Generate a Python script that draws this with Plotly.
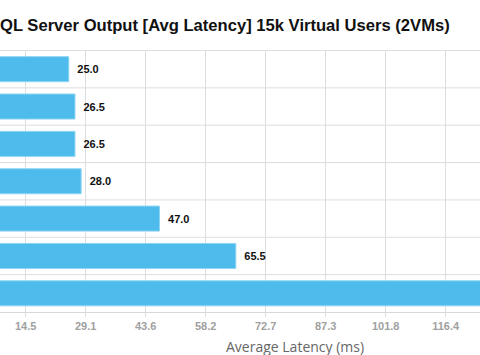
import plotly.graph_objects as go

categories = ["Config A", "Config B", "Config C", "Config D", "Config E", "Config F", "Config G"]
latency = [25.0, 26.5, 26.5, 28.0, 47.0, 65.5, 140.0]
tick_values = [14.55, 29.1, 43.65, 58.2, 72.75, 87.3, 101.85, 116.4, 130.95, 145.5]
tick_labels = ["14.5", "29.1", "43.6", "58.2", "72.7", "87.3", "101.8", "116.4", "130.9", "145.5"]
title_text = "QL Server Output [Avg Latency] 15k Virtual Users (2VMs)"
x_title = "Average Latency (ms)"

fig = go.Figure()
fig.add_trace(go.Bar(
    y=categories,
    x=latency,
    orientation="h",
    marker=dict(color="#4dbbeb", line=dict(color="#8fd4f3", width=1)),
    text=[f"\u2002{v:.1f}" for v in latency],
    textposition=["outside"] * (len(latency) - 1) + ["none"],
    textfont=dict(family="Arial", size=11, color="#111111", weight="bold"),
    cliponaxis=True,
    hoverinfo="x+y",
))

fig.update_layout(
    width=480, height=355,
    margin=dict(l=0, r=0, t=50, b=43),
    paper_bgcolor="white", plot_bgcolor="white",
    showlegend=False,
    bargap=0.33,
    xaxis=dict(
        range=[8.32, 124.72],
        tickmode="array", tickvals=tick_values, ticktext=tick_labels,
        showgrid=True, gridcolor="#dddddd", gridwidth=1,
        zeroline=False,
        showline=True, linecolor="#d8d8d8", linewidth=1,
        tickfont=dict(family="Arial", size=11, color="#a0a0a0", weight="bold"),
        ticks="outside", ticklen=4, tickcolor="#dddddd",
    ),
    yaxis=dict(
        autorange="reversed",
        showticklabels=False,
        showgrid=False,
        zeroline=False,
        showline=False,
    ),
    shapes=[
        dict(type="line", xref="paper", yref="y", x0=0, x1=1, y0=i - 0.5, y1=i - 0.5,
             line=dict(color="#dddddd", width=1), layer="below")
        for i in range(len(categories))
    ],
    annotations=[
        dict(text=title_text, xref="paper", yref="paper", x=0, y=1, xanchor="left",
             yanchor="middle", yshift=25, xshift=-2, showarrow=False,
             font=dict(family="Arial", size=16.6, color="#111111", weight="bold")),
        dict(text=x_title, xref="paper", yref="paper", x=295 / 480, y=0, xanchor="center",
             yanchor="middle", yshift=-34, showarrow=False,
             font=dict(family="Open Sans", size=14, color="#666666")),
    ],
)

fig.write_html("out.html", config={"displayModeBar": False},
               post_script="document.body.style.margin='0';")
